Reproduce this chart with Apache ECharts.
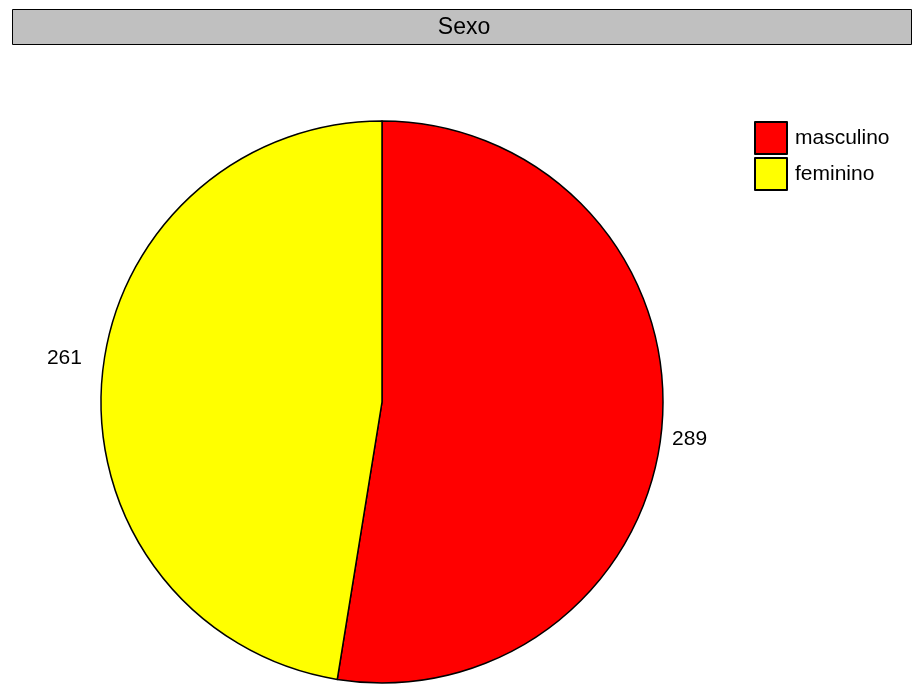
<!DOCTYPE html>
<html>
<head>
<meta charset="utf-8">
<script src="https://cdn.jsdelivr.net/npm/echarts@6/dist/echarts.min.js"></script>
<style>html,body{margin:0;padding:0;background:#fff}#c{width:914px;height:684px}</style>
</head>
<body>
<div id="c"></div>
<script>
const titleText = 'Sexo';
const categories = ['masculino', 'feminino'];
const values = [289, 261];
const colors = ['#FF0000', '#FFFF00'];

const chart = echarts.init(document.getElementById('c'), null, {renderer: 'canvas'});
const FONT = 'Liberation Sans, Helvetica, Arial, sans-serif';
chart.setOption({
  animation: false,
  backgroundColor: '#ffffff',
  graphic: [{
    type: 'rect', z: 0,
    shape: {x: 12.5, y: 9.5, width: 899, height: 35},
    style: {fill: '#C0C0C0', stroke: '#000', lineWidth: 1}
  }],
  title: {
    text: titleText,
    left: 464, top: 28, textAlign: 'center', textVerticalAlign: 'middle',
    padding: 0,
    textStyle: {fontFamily: FONT, fontWeight: 'normal', fontSize: 23, color: '#000'}
  },
  legend: {
    orient: 'vertical', left: 754, top: 121,
    itemWidth: 32, itemHeight: 32, itemGap: 2,
    icon: 'rect', padding: 0,
    data: categories,
    textStyle: {fontFamily: FONT, fontSize: 21, color: '#000', padding: [2, 0, 0, 3]}
  },
  series: [{
    type: 'pie',
    center: [382, 402],
    radius: 281,
    startAngle: 90,
    clockwise: true,
    silent: true,
    data: categories.map((c, i) => ({name: c, value: values[i], itemStyle: {color: colors[i]}})),
    itemStyle: {borderColor: '#000', borderWidth: 1.5},
    label: {
      show: true, position: 'outside', formatter: '{c}',
      fontFamily: FONT, fontSize: 21, color: '#000'
    },
    labelLine: {show: false, length: 10, length2: 0},
    labelLayout: function (p) {
      return p.dataIndex === 0 ? {dx: -5, dy: 14} : {dx: -5, dy: -21};
    },
    emphasis: {disabled: true}
  }]
});
</script>
</body>
</html>
